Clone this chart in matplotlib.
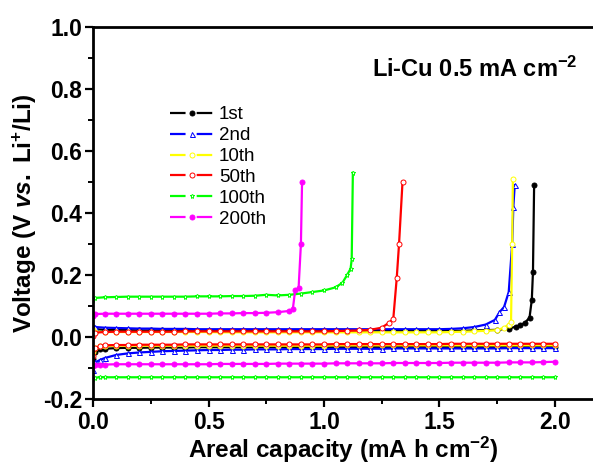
import matplotlib
matplotlib.use("Agg")
import matplotlib.pyplot as plt
from matplotlib.ticker import MultipleLocator

plt.rcParams["font.family"] = ["Liberation Sans", "DejaVu Sans"]
plt.rcParams["mathtext.fontset"] = "custom"
plt.rcParams["mathtext.rm"] = "Liberation Sans:bold"
plt.rcParams["mathtext.it"] = "Liberation Sans:bold:italic"
plt.rcParams["mathtext.bf"] = "Liberation Sans:bold"

LABELS = ["1st", "2nd", "10th", "50th", "100th", "200th"]

# plating branch (negative voltage), shared capacity grid
PLATE_X = [0.0, 0.01, 0.03, 0.05,
           0.10, 0.15, 0.20, 0.25, 0.30, 0.35, 0.40, 0.45, 0.50,
           0.55, 0.60, 0.65, 0.70, 0.75, 0.80, 0.85, 0.90, 0.95, 1.00,
           1.05, 1.10, 1.15, 1.20, 1.25, 1.30, 1.35, 1.40, 1.45, 1.50,
           1.55, 1.60, 1.65, 1.70, 1.75, 1.80, 1.85, 1.90, 1.95, 2.00]

PLATE_1 = [-0.070, -0.048, -0.040, -0.038,
           -0.036, -0.035, -0.035, -0.034, -0.034, -0.034, -0.034, -0.033, -0.033,
           -0.033, -0.033, -0.033, -0.033, -0.033, -0.033, -0.033, -0.033, -0.033, -0.033,
           -0.033, -0.033, -0.033, -0.032, -0.032, -0.032, -0.032, -0.032, -0.032, -0.032,
           -0.032, -0.032, -0.032, -0.032, -0.032, -0.032, -0.032, -0.032, -0.032, -0.032]
PLATE_2 = [-0.108, -0.082, -0.074, -0.068,
           -0.058, -0.053, -0.050, -0.048, -0.046, -0.045, -0.044, -0.043, -0.042,
           -0.042, -0.041, -0.041, -0.040, -0.040, -0.040, -0.039, -0.039, -0.039, -0.039,
           -0.038, -0.038, -0.038, -0.038, -0.038, -0.037, -0.037, -0.037, -0.037, -0.037,
           -0.037, -0.037, -0.037, -0.037, -0.037, -0.036, -0.036, -0.036, -0.036, -0.036]
PLATE_10 = [-0.050, -0.034, -0.030, -0.029,
            -0.028, -0.028, -0.028, -0.028, -0.028, -0.028, -0.028, -0.028, -0.028,
            -0.028, -0.028, -0.028, -0.028, -0.028, -0.028, -0.028, -0.028, -0.028, -0.028,
            -0.027, -0.027, -0.027, -0.027, -0.027, -0.027, -0.027, -0.027, -0.027, -0.027,
            -0.027, -0.027, -0.027, -0.027, -0.027, -0.027, -0.027, -0.027, -0.027, -0.027]
PLATE_50 = [-0.062, -0.036, -0.029, -0.027,
            -0.026, -0.026, -0.025, -0.025, -0.025, -0.025, -0.024, -0.024, -0.024,
            -0.024, -0.024, -0.024, -0.024, -0.024, -0.024, -0.024, -0.024, -0.024, -0.024,
            -0.023, -0.023, -0.023, -0.023, -0.023, -0.023, -0.023, -0.023, -0.023, -0.023,
            -0.022, -0.022, -0.022, -0.022, -0.022, -0.022, -0.022, -0.022, -0.022, -0.022]
PLATE_100 = [-0.135, -0.131, -0.130, -0.130,
             -0.130, -0.130, -0.130, -0.130, -0.130, -0.130, -0.130, -0.130, -0.130,
             -0.130, -0.130, -0.130, -0.130, -0.130, -0.130, -0.130, -0.130, -0.130, -0.130,
             -0.130, -0.130, -0.130, -0.130, -0.130, -0.130, -0.130, -0.130, -0.130, -0.130,
             -0.130, -0.130, -0.130, -0.130, -0.130, -0.130, -0.130, -0.130, -0.130, -0.130]
PLATE_200 = [-0.093, -0.090, -0.089, -0.089,
             -0.088, -0.088, -0.088, -0.088, -0.088, -0.088, -0.088, -0.088, -0.088,
             -0.087, -0.087, -0.087, -0.087, -0.087, -0.086, -0.086, -0.086, -0.086, -0.086,
             -0.085, -0.085, -0.085, -0.085, -0.085, -0.084, -0.084, -0.084, -0.084, -0.084,
             -0.083, -0.083, -0.083, -0.083, -0.083, -0.082, -0.082, -0.082, -0.081, -0.080]

# stripping branch (positive voltage)
STRIP_X_1 = [0.0, 0.01,
             0.05, 0.10, 0.15, 0.20, 0.25, 0.30, 0.35, 0.40, 0.45, 0.50,
             0.55, 0.60, 0.65, 0.70, 0.75, 0.80, 0.85, 0.90, 0.95, 1.00,
             1.05, 1.10, 1.15, 1.20, 1.25, 1.30, 1.35, 1.40, 1.45, 1.50,
             1.55, 1.60, 1.65, 1.70, 1.75, 1.80,
             1.83, 1.85, 1.87, 1.89, 1.90, 1.905, 1.91]
STRIP_Y_1 = [0.030, 0.025,
             0.023, 0.022, 0.022, 0.021, 0.021, 0.021, 0.020, 0.020, 0.020, 0.020,
             0.020, 0.020, 0.020, 0.020, 0.020, 0.020, 0.020, 0.020, 0.020, 0.020,
             0.020, 0.020, 0.020, 0.020, 0.020, 0.020, 0.020, 0.020, 0.020, 0.020,
             0.020, 0.020, 0.021, 0.022, 0.023, 0.027,
             0.033, 0.038, 0.046, 0.062, 0.120, 0.210, 0.490]

STRIP_X_2 = [0.0, 0.01,
             0.05, 0.10, 0.15, 0.20, 0.25, 0.30, 0.35, 0.40, 0.45, 0.50,
             0.55, 0.60, 0.65, 0.70, 0.75, 0.80, 0.85, 0.90, 0.95, 1.00,
             1.05, 1.10, 1.15, 1.20, 1.25, 1.30, 1.35, 1.40, 1.45, 1.50,
             1.55, 1.60,
             1.65, 1.70, 1.74, 1.76, 1.78, 1.80, 1.815, 1.82, 1.826]
STRIP_Y_2 = [0.036, 0.032,
             0.030, 0.029, 0.028, 0.027, 0.027, 0.026, 0.026, 0.026, 0.025, 0.025,
             0.025, 0.025, 0.025, 0.025, 0.025, 0.025, 0.025, 0.025, 0.025, 0.025,
             0.025, 0.025, 0.025, 0.025, 0.025, 0.025, 0.025, 0.025, 0.025, 0.025,
             0.026, 0.028,
             0.032, 0.040, 0.055, 0.080, 0.097, 0.145, 0.300, 0.420, 0.490]

STRIP_X_10 = [0.0, 0.01,
              0.05, 0.10, 0.15, 0.20, 0.25, 0.30, 0.35, 0.40, 0.45, 0.50,
              0.55, 0.60, 0.65, 0.70, 0.75, 0.80, 0.85, 0.90, 0.95, 1.00,
              1.05, 1.10, 1.15, 1.20, 1.25, 1.30, 1.35, 1.40, 1.45, 1.50,
              1.55, 1.60, 1.65, 1.70, 1.75,
              1.78, 1.80, 1.81, 1.815, 1.818]
STRIP_Y_10 = [0.022, 0.017,
              0.016, 0.016, 0.016, 0.016, 0.016, 0.016, 0.016, 0.016, 0.016, 0.016,
              0.015, 0.015, 0.015, 0.015, 0.015, 0.015, 0.015, 0.015, 0.015, 0.015,
              0.015, 0.015, 0.015, 0.015, 0.015, 0.015, 0.015, 0.015, 0.015, 0.015,
              0.016, 0.017, 0.018, 0.020, 0.022,
              0.030, 0.040, 0.048, 0.300, 0.510]

STRIP_X_50 = [0.0, 0.01,
              0.05, 0.10, 0.15, 0.20, 0.25, 0.30, 0.35, 0.40, 0.45, 0.50,
              0.55, 0.60, 0.65, 0.70, 0.75, 0.80, 0.85, 0.90, 0.95, 1.00,
              1.05, 1.10, 1.15, 1.20,
              1.25, 1.28, 1.30, 1.315, 1.325, 1.34]
STRIP_Y_50 = [0.002, 0.014,
              0.016, 0.017, 0.017, 0.017, 0.017, 0.017, 0.017, 0.018, 0.018, 0.018,
              0.018, 0.018, 0.018, 0.018, 0.018, 0.018, 0.018, 0.018, 0.018, 0.018,
              0.019, 0.020, 0.021, 0.023,
              0.030, 0.045, 0.058, 0.190, 0.300, 0.500]

STRIP_X_100 = [0.0, 0.01,
               0.05, 0.10, 0.15, 0.20, 0.25, 0.30, 0.35, 0.40, 0.45, 0.50,
               0.55, 0.60, 0.65, 0.70, 0.75, 0.80, 0.85, 0.90, 0.95, 1.00,
               1.05,
               1.08, 1.10, 1.115, 1.12, 1.125]
STRIP_Y_100 = [0.120, 0.126,
               0.128, 0.129, 0.130, 0.130, 0.130, 0.130, 0.130, 0.130, 0.131, 0.131,
               0.131, 0.132, 0.132, 0.133, 0.136, 0.134, 0.136, 0.140, 0.145, 0.150,
               0.160,
               0.175, 0.200, 0.220, 0.250, 0.530]

STRIP_X_200 = [0.0, 0.01,
               0.05, 0.10, 0.15, 0.20, 0.25, 0.30, 0.35, 0.40, 0.45, 0.50,
               0.55, 0.60, 0.65, 0.70, 0.75, 0.80, 0.85,
               0.865, 0.875, 0.89, 0.90, 0.905]
STRIP_Y_200 = [0.068, 0.074,
               0.075, 0.075, 0.075, 0.075, 0.075, 0.075, 0.075, 0.075, 0.075, 0.075,
               0.076, 0.076, 0.077, 0.077, 0.078, 0.080, 0.084,
               0.090, 0.150, 0.158, 0.300, 0.500]

PLATE = [PLATE_1, PLATE_2, PLATE_10, PLATE_50, PLATE_100, PLATE_200]
STRIP_X = [STRIP_X_1, STRIP_X_2, STRIP_X_10, STRIP_X_50, STRIP_X_100, STRIP_X_200]
STRIP_Y = [STRIP_Y_1, STRIP_Y_2, STRIP_Y_10, STRIP_Y_50, STRIP_Y_100, STRIP_Y_200]

COLORS = ["#000000", "#0000FF", "#FFFF00", "#FF0000", "#00FF00", "#FF00FF"]
MARKERS = ["o", "^", "o", "o", "*", "o"]
FILLED = [True, False, False, False, False, True]

fig = plt.figure(figsize=(5.93, 4.65), dpi=100)
ax = fig.add_axes([0.157, 0.142, 0.843, 0.800])

lines = []
for i, lab in enumerate(LABELS):
    c = COLORS[i]
    mfc = c if FILLED[i] else "white"
    style = dict(color=c, lw=1.6, marker=MARKERS[i], ms=3.6, mfc=mfc,
                 mec=c, mew=0.7)
    ax.plot(PLATE_X, PLATE[i], **style)
    ln, = ax.plot(STRIP_X[i], STRIP_Y[i], label=lab, **style)
    lines.append(ln)

ax.set_xlim(0, 2.165)
ax.set_ylim(-0.2, 1.0)
ax.xaxis.set_major_locator(MultipleLocator(0.5))
ax.xaxis.set_minor_locator(MultipleLocator(0.25))
ax.yaxis.set_major_locator(MultipleLocator(0.2))
ax.yaxis.set_minor_locator(MultipleLocator(0.1))
ax.xaxis.set_major_formatter(plt.FormatStrFormatter("%.1f"))
ax.yaxis.set_major_formatter(plt.FormatStrFormatter("%.1f"))

ax.spines["right"].set_visible(False)
for s in ["left", "bottom", "top"]:
    ax.spines[s].set_linewidth(2.0)
ax.tick_params(which="major", direction="out", length=6, width=1.6,
               labelsize=16.5, top=False, right=False)
ax.tick_params(which="minor", direction="out", length=3.5, width=1.4,
               top=False, right=False)
ax.tick_params(axis="y", which="major", pad=2)
ax.tick_params(axis="x", which="major", pad=3)
for t in ax.get_xticklabels() + ax.get_yticklabels():
    t.set_fontweight("bold")

ax.set_xlabel(r"Areal capacity (mA h cm$^{\mathrm{-2}}$)", fontsize=17.5,
              fontweight="bold", labelpad=0)
ax.set_ylabel(r"Voltage (V $\mathit{vs.}$ Li$^{\mathrm{+}}$/Li)", fontsize=17.5,
              fontweight="bold", labelpad=3)

ax.text(1.21, 0.865, r"Li-Cu 0.5 mA cm$^{\mathrm{-2}}$", fontsize=17,
        fontweight="bold", va="center", ha="left")

leg = ax.legend(handles=lines, loc="upper left", bbox_to_anchor=(0.154, 0.787),
                frameon=False, fontsize=13.5, handlelength=2.3,
                handletextpad=0.3, labelspacing=0.2, borderpad=0,
                borderaxespad=0)
for hl in leg.get_lines():
    hl.set_linestyle((0, (7, 5)))

fig.savefig("out.png", dpi=100)
